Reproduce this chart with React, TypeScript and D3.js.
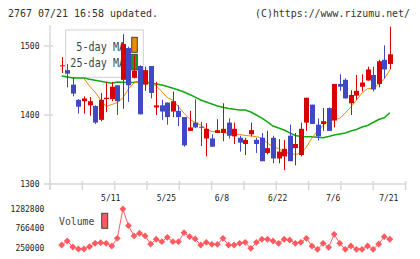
import React from 'react';
import * as d3 from 'd3';

// Daily OHLC (60 sessions, ending 07/21)
const opens = [
  1471, 1465, 1444, 1422, 1420, 1414, 1413, 1393, 1423, 1423,
  1443, 1451, 1497, 1454, 1471, 1444, 1471, 1411, 1414, 1418,
  1405, 1406, 1397, 1377, 1389, 1383, 1366, 1366, 1374, 1374,
  1389, 1369, 1367, 1358, 1372, 1364, 1367, 1345, 1367, 1337,
  1340, 1370, 1352, 1342, 1389, 1415, 1386, 1387, 1410, 1392,
  1445, 1451, 1417, 1428, 1441, 1450, 1458, 1445, 1480, 1474,
];
const highs = [
  1484, 1474, 1455, 1423, 1427, 1426, 1414, 1432, 1448, 1448,
  1443, 1517, 1499, 1486, 1472, 1470, 1471, 1448, 1422, 1418,
  1434, 1414, 1397, 1406, 1423, 1390, 1388, 1372, 1394, 1417,
  1395, 1389, 1370, 1367, 1389, 1367, 1374, 1377, 1370, 1365,
  1364, 1386, 1374, 1389, 1425, 1415, 1395, 1410, 1411, 1445,
  1459, 1453, 1436, 1458, 1459, 1470, 1470, 1480, 1501, 1528,
];
const lows = [
  1461, 1440, 1427, 1402, 1402, 1399, 1387, 1391, 1404, 1420,
  1400, 1409, 1419, 1453, 1401, 1435, 1424, 1400, 1393, 1386,
  1397, 1384, 1354, 1377, 1381, 1355, 1340, 1354, 1374, 1362,
  1366, 1358, 1347, 1342, 1369, 1345, 1333, 1343, 1330, 1330,
  1320, 1333, 1327, 1340, 1377, 1387, 1363, 1377, 1377, 1382,
  1435, 1424, 1400, 1422, 1434, 1450, 1434, 1440, 1453, 1466,
];
const closes = [
  1472, 1460, 1431, 1412, 1424, 1420, 1389, 1422, 1425, 1441,
  1420, 1503, 1443, 1464, 1401, 1465, 1432, 1414, 1405, 1397,
  1420, 1397, 1356, 1382, 1382, 1382, 1380, 1354, 1378, 1380,
  1370, 1380, 1360, 1364, 1378, 1358, 1333, 1352, 1337, 1347,
  1351, 1333, 1358, 1380, 1425, 1387, 1369, 1391, 1377, 1445,
  1441, 1424, 1429, 1435, 1447, 1466, 1437, 1478, 1466, 1488,
];

// Moving averages
const ma5: (number | null)[] = [
  null, null, null, null, 1452.9, 1442, 1433.3, 1421.7, 1412.3, 1415.2,
  1418.1, 1424.6, 1437.7, 1446.4, 1448.3, 1447.4, 1445.7, 1442, 1434.1, 1425.1,
  1421.7, 1412, 1402.5, 1394.2, 1389.1, 1385.5, 1379, 1376.1, 1375.4, 1374.6,
  1373.2, 1372.5, 1371.7, 1370.3, 1369.6, 1368.6, 1366.7, 1359.4, 1353.6, 1351.4,
  1346.4, 1344.2, 1343, 1344.2, 1353.6, 1366.7, 1376.8, 1384.8, 1392, 1393.5,
  1394.9, 1402.9, 1411.6, 1421.7, 1431.9, 1438.1, 1438.4, 1444.9, 1452.2, 1465.2,
];
const ma25 = [
  1456.5, 1455, 1453.6, 1453.6, 1453.6, 1451.7, 1450.3, 1448.8, 1447.4, 1446,
  1447.8, 1447.4, 1446.8, 1447.4, 1448.3, 1447.8, 1446.4, 1445, 1443.5, 1441.3,
  1438.7, 1436.2, 1433.3, 1429.7, 1426, 1421.7, 1418.8, 1416, 1413, 1411.2,
  1409.4, 1408.3, 1407.2, 1407.2, 1404.3, 1400, 1395.6, 1389.9, 1384, 1381.2,
  1378.3, 1374, 1370.3, 1368.8, 1368.5, 1368.5, 1367.7, 1367.1, 1368.8, 1371,
  1372.5, 1374, 1376.8, 1379, 1382.6, 1384.8, 1389.1, 1393.5, 1396, 1403.3,
];

const volumes = [
  322000, 429000, 269000, 215000, 215000, 277000, 368000, 384000, 368000, 295000,
  501000, 1282800, 839000, 563000, 635000, 563000, 349000, 475000, 410000, 528000,
  410000, 410000, 651000, 544000, 483000, 322000, 394000, 341000, 341000, 501000,
  322000, 322000, 368000, 394000, 234000, 394000, 475000, 475000, 429000, 368000,
  475000, 456000, 368000, 394000, 501000, 295000, 207000, 368000, 261000, 608000,
  368000, 207000, 295000, 207000, 207000, 295000, 207000, 349000, 544000, 475000,
];

const dateLabels = ['5/11', '5/25', '6/8', '6/22', '7/6', '7/21'];
const dateLabelIndex = [9, 19, 29, 39, 49, 59];
const priceTicks = [1300, 1400, 1500];
const volumeTicks = [250000, 766400, 1282800];

const MONO = '"DejaVu Sans Mono", "Liberation Mono", monospace';
const UP = '#d80000';
const DOWN = '#4048c4';
const MA5_COLOR = '#f08a00';
const MA25_COLOR = '#12a812';
const VOL_COLOR = '#ff5a60';
const AXIS = '#d8d8d8';

export default function App() {
  const n = closes.length;
  const plotLeft = 50;
  const plotRight = 405.6;
  const plotTop = 25;
  const plotBottom = 184;

  const x = d3.scaleLinear().domain([0, n - 1]).range([61.7, 389.8]);
  const y = d3.scaleLinear().domain([1300, 1500]).range([plotBottom, 46]);
  const yv = d3.scaleLinear().domain([250000, 1282800]).range([247.7, 209]);

  const gridTicks = d3.range(12).map((k) => plotLeft + (k * (plotRight - plotLeft)) / 11);

  const ma5Line = d3
    .line<number | null>()
    .defined((d) => d != null)
    .x((_, i) => x(i))
    .y((d) => y(d as number));
  const ma25Line = d3
    .line<number>()
    .x((_, i) => x(i))
    .y((d) => y(d));
  const volLine = d3
    .line<number>()
    .x((_, i) => x(i))
    .y((d) => yv(d));

  const diamond = (cx: number, cy: number, r: number) =>
    `M${cx},${cy - r}L${cx + r},${cy}L${cx},${cy + r}L${cx - r},${cy}Z`;

  return (
    <svg
      width={420}
      height={259}
      viewBox="0 0 420 259"
      style={{ position: 'absolute', left: 0, top: 0, background: '#fff' }}
    >
      <rect x={0} y={0} width={420} height={259} fill="#fff" />

      {/* header */}
      <text x={8} y={16.5} fontFamily={MONO} fontSize={10} fill="#333" textLength={150} lengthAdjust="spacingAndGlyphs">
        2767 07/21 16:58 updated.
      </text>
      <text x={255} y={16.5} fontFamily={MONO} fontSize={10} fill="#333" textLength={155} lengthAdjust="spacingAndGlyphs">
        (C)https://www.rizumu.net/
      </text>

      {/* axes */}
      <g stroke={AXIS} strokeWidth={1.5} fill="none">
        <line x1={plotLeft} x2={plotLeft} y1={plotTop} y2={190} />
        <line x1={44} x2={plotRight} y1={plotBottom} y2={plotBottom} />
        {gridTicks.map((gx, k) => (
          <line key={k} x1={gx} x2={gx} y1={181} y2={190} />
        ))}
        {priceTicks.map((t) => (
          <line key={t} x1={44} x2={53} y1={y(t)} y2={y(t)} />
        ))}
      </g>
      {priceTicks.map((t) => (
        <text key={t} x={39.5} y={y(t)} dy="0.35em" textAnchor="end" fontFamily={MONO} fontSize={8} fill="#222">
          {t}
        </text>
      ))}
      {dateLabels.map((lab, k) => (
        <text key={lab} x={x(dateLabelIndex[k]) - 1} y={201} textAnchor="middle" fontFamily={MONO} fontSize={8} fill="#222">
          {lab}
        </text>
      ))}

      {/* legend */}
      <rect x={65.7} y={30} width={77.6} height={47.3} fill="#fff" stroke="#cfcfcf" strokeWidth={1} />
      <text x={76.3} y={50.7} fontFamily={MONO} fontSize={12} fill="#444" textLength={48.8} lengthAdjust="spacingAndGlyphs">
        5-day MA
      </text>
      <text x={70.3} y={67.3} fontFamily={MONO} fontSize={12} fill="#444" textLength={54.9} lengthAdjust="spacingAndGlyphs">
        25-day MA
      </text>
      <rect x={131.7} y={37.3} width={5.6} height={15} fill={MA5_COLOR} stroke="#444" strokeWidth={1} />
      <rect x={131.7} y={54.3} width={5.6} height={15.7} fill={MA25_COLOR} stroke="#444" strokeWidth={1} />

      {/* moving averages */}
      <path d={ma25Line(ma25) || ''} fill="none" stroke={MA25_COLOR} strokeWidth={1.5} />
      <path d={ma5Line(ma5) || ''} fill="none" stroke={MA5_COLOR} strokeWidth={1} />

      {/* candles */}
      {closes.map((c, i) => {
        const o = opens[i];
        const col = c >= o ? UP : DOWN;
        const cx = Math.round(x(i));
        const top = y(Math.max(o, c));
        const h = Math.max(1, Math.abs(y(o) - y(c)));
        return (
          <g key={i}>
            <line x1={cx + 0.5} x2={cx + 0.5} y1={y(highs[i])} y2={y(lows[i])} stroke={col} strokeWidth={1} />
            <rect x={cx - 2} y={top} width={5} height={h} fill={col} />
          </g>
        );
      })}

      {/* volume */}
      {volumeTicks.map((t) => (
        <text key={t} x={44.3} y={yv(t)} dy="0.35em" textAnchor="end" fontFamily={MONO} fontSize={8} fill="#222">
          {t}
        </text>
      ))}
      <text x={59} y={225} fontFamily={MONO} fontSize={11} fill="#444" textLength={35.3} lengthAdjust="spacingAndGlyphs">
        Volume
      </text>
      <rect x={101.7} y={213.3} width={6} height={15} fill={VOL_COLOR} stroke="#444" strokeWidth={1} />
      <path d={volLine(volumes) || ''} fill="none" stroke={VOL_COLOR} strokeWidth={1} />
      {volumes.map((v, i) => (
        <path key={i} d={diamond(x(i), yv(v), 3.4)} fill={VOL_COLOR} />
      ))}
    </svg>
  );
}
